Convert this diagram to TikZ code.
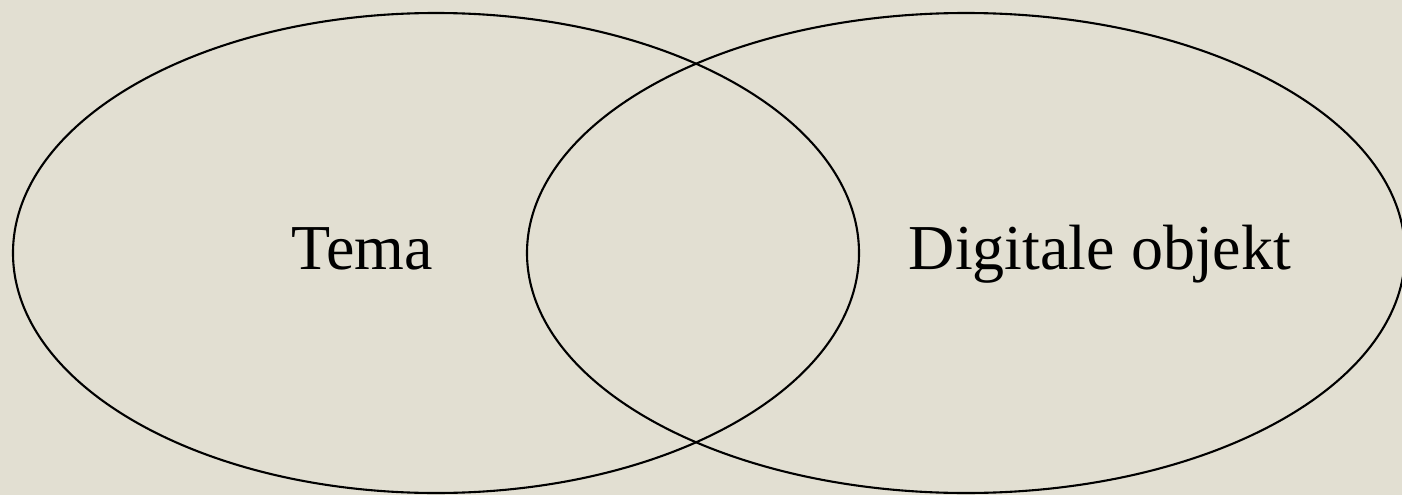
\documentclass[tikz,border=0pt]{standalone}
\usepackage{fontspec}
\setmainfont{Liberation Serif}
\definecolor{bg}{RGB}{226,223,210}
\begin{document}
\begin{tikzpicture}[x=1pt,y=-1pt,
  setring/.style={draw=black,line width=2.1pt},
  setlabel/.style={font=\fontsize{64}{77}\selectfont,inner sep=0pt,anchor=base}]
\fill[bg] (0,0) rectangle (1402,495);
\useasboundingbox (0,0) rectangle (1402,495);
\begin{scope}
\clip (0,0) rectangle (1402,495);
\draw[setring] (436,253) ellipse [x radius=423, y radius=240];
\draw[setring] (966,253) ellipse [x radius=439, y radius=240];
\end{scope}
\node[setlabel] (tema) at (362,269) {Tema};
\node[setlabel] (dig) at (1100,269) {Digitale objekt};
\end{tikzpicture}
\end{document}
